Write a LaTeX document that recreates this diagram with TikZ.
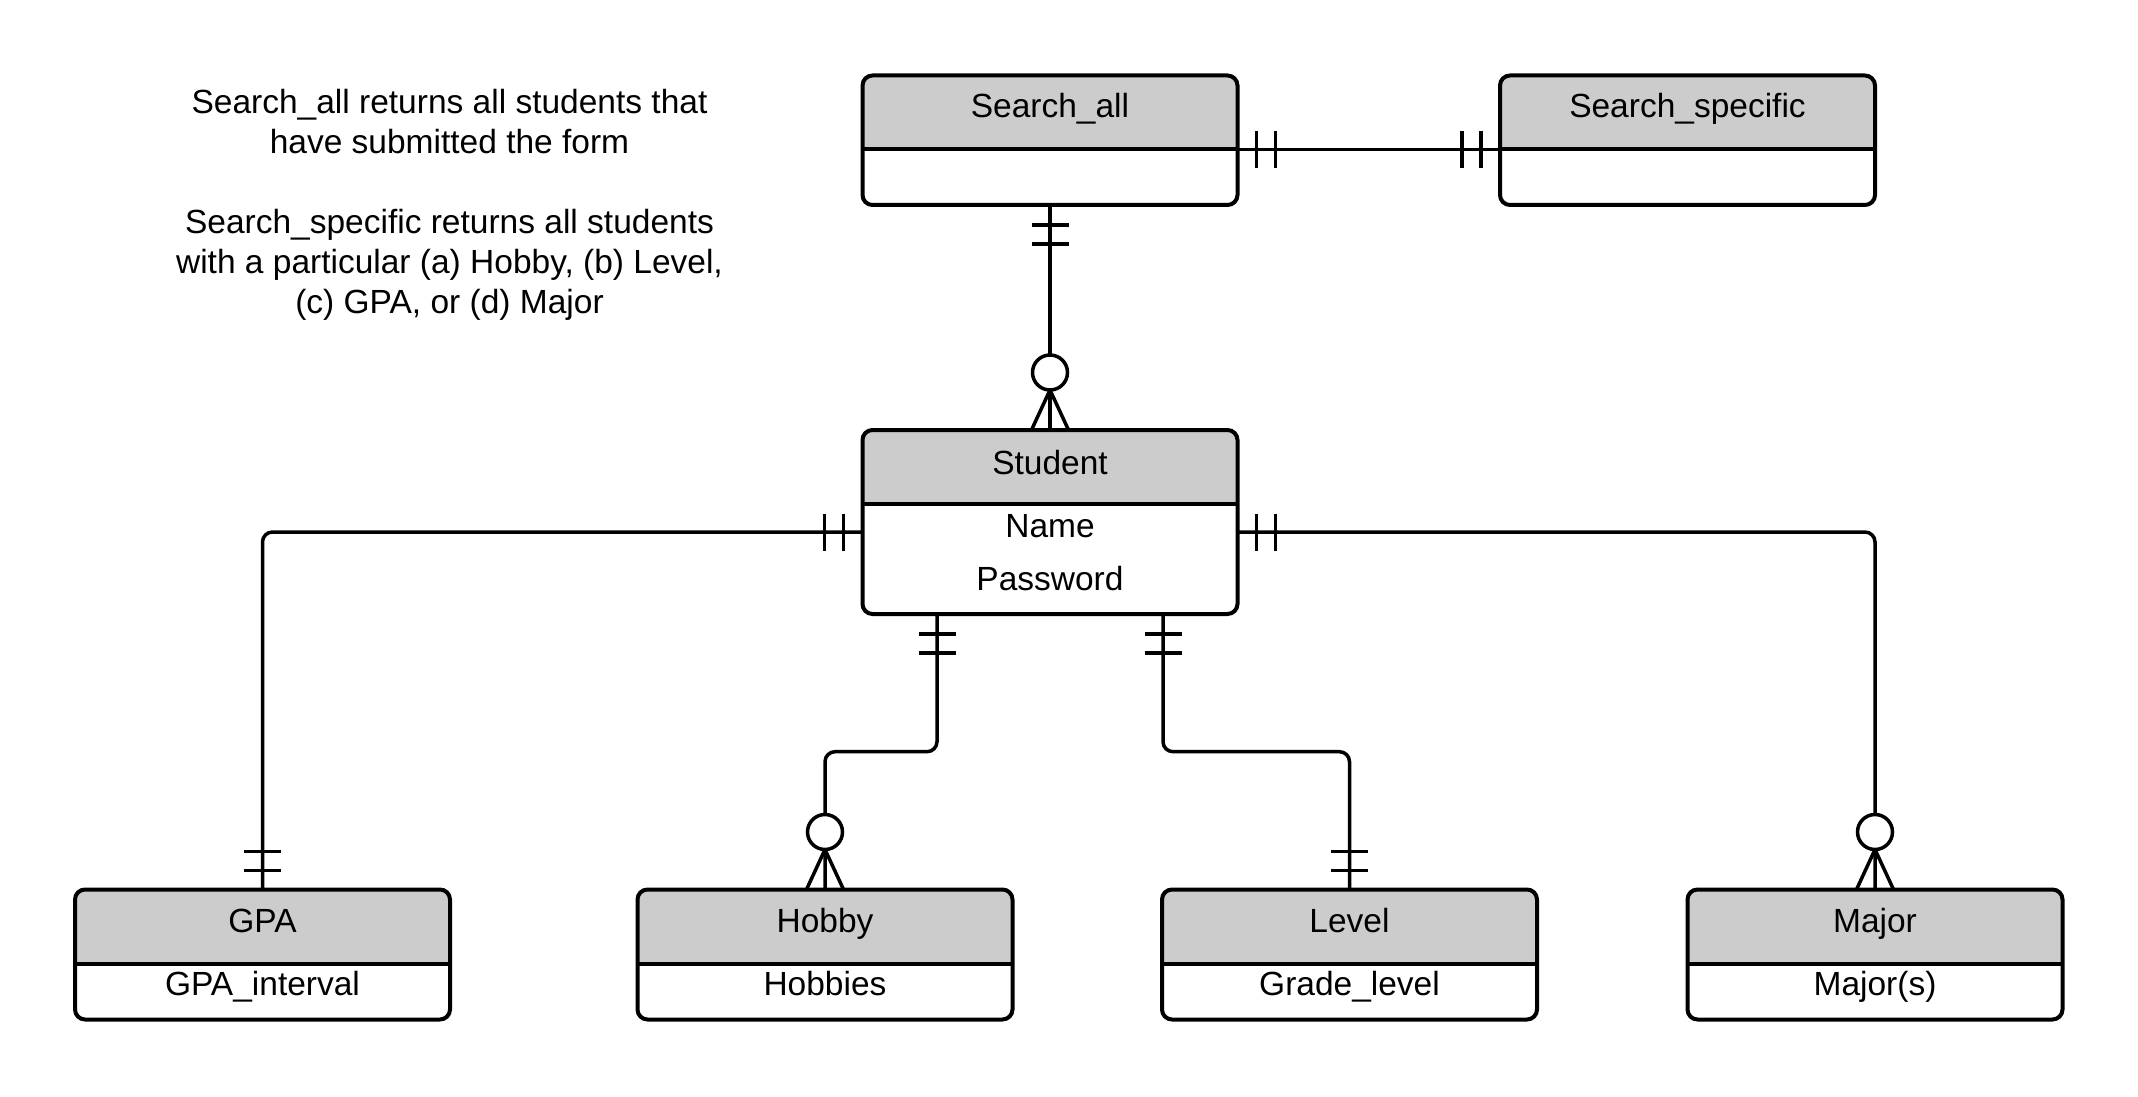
\documentclass[tikz,border=0pt]{standalone}
\usepackage{fontspec}
\setmainfont{Liberation Sans}
\usetikzlibrary{calc}
\definecolor{hdrgray}{HTML}{CCCCCC}
\tikzset{
  entbox/.style={draw=none, minimum width=187.5pt, inner sep=0pt, outer sep=0pt, anchor=north},
  lbl/.style={inner sep=0pt, anchor=base, font=\fontsize{16.75}{20}\selectfont},
  conn/.style={line width=1.75pt, draw=black},
  border/.style={line width=2pt, draw=black, rounded corners=5pt},
}
\newcommand\entframe[1]{%
  \begin{scope}
    \clip[rounded corners=5pt] (#1.south west) rectangle (#1.north east);
    \fill[hdrgray] (#1.north west) rectangle ([yshift=-37pt]#1.north east);
  \end{scope}
  \draw[border] (#1.south west) rectangle (#1.north east);
  \draw[line width=2pt] ([yshift=-37pt]#1.north west) -- ([yshift=-37pt]#1.north east);
}
% double bars: line leaving downwards / arriving from above / leaving right / leaving left
\newcommand\barsdown[1]{%
  \draw[conn] ([shift={(-18.5,20)}]#1) -- ([shift={(18.5,20)}]#1);
  \draw[conn] ([shift={(-18.5,39)}]#1) -- ([shift={(18.5,39)}]#1);}
\newcommand\barsup[1]{%
  \draw[conn] ([shift={(-18.5,-19)}]#1) -- ([shift={(18.5,-19)}]#1);
  \draw[conn] ([shift={(-18.5,-38)}]#1) -- ([shift={(18.5,-38)}]#1);}
\newcommand\barsright[1]{%
  \draw[conn] ([shift={(19,-18.5)}]#1) -- ([shift={(19,18.5)}]#1);
  \draw[conn] ([shift={(38,-18.5)}]#1) -- ([shift={(38,18.5)}]#1);}
\newcommand\barsleft[1]{%
  \draw[conn] ([shift={(-19,-18.5)}]#1) -- ([shift={(-19,18.5)}]#1);
  \draw[conn] ([shift={(-38,-18.5)}]#1) -- ([shift={(-38,18.5)}]#1);}
% zero-or-many at a box top
\newcommand\crowtop[1]{%
  \draw[conn] ([shift={(-18.5,0)}]#1) -- ([shift={(0,-40)}]#1) -- ([shift={(18.5,0)}]#1);
  \draw[conn, fill=white] ([shift={(0,-57.5)}]#1) circle[radius=8.75pt];}
\begin{document}
\begin{tikzpicture}[x=0.5pt,y=-0.5pt]
\useasboundingbox (0,0) rectangle (2138,1097);
% entity boxes
\node[entbox, minimum height=64.75pt] (sall) at (1050,75.5) {};
\node[entbox, minimum height=64.75pt] (ssp) at (1687.5,75.5) {};
\node[entbox, minimum height=92pt] (student) at (1050,430) {};
\node[entbox, minimum height=65pt] (gpa) at (262.5,889.5) {};
\node[entbox, minimum height=65pt] (hobby) at (825,889.5) {};
\node[entbox, minimum height=65pt] (level) at (1349.5,889.5) {};
\node[entbox, minimum height=65pt] (major) at (1875,889.5) {};
% connection points
\coordinate (sallR) at ([yshift=-37pt]sall.north east);
\coordinate (sspL) at ([yshift=-37pt]ssp.north west);
\coordinate (stL) at ([yshift=-51pt]student.north west);
\coordinate (stR) at ([yshift=-51pt]student.north east);
\coordinate (stB1) at ([xshift=-56.5pt]student.south);
\coordinate (stB2) at ([xshift=56.5pt]student.south);
% connectors
\draw[conn] (sallR) -- (sspL);
\draw[conn] (sall.south) -- (student.north);
\draw[conn, rounded corners=5pt] (stL) -| (gpa.north);
\draw[conn, rounded corners=5pt] (stR) -| (major.north);
\draw[conn, rounded corners=5pt] (stB1) -- ++(0,137.7) -| (hobby.north);
\draw[conn, rounded corners=5pt] (stB2) -- ++(0,137.7) -| (level.north);
% frames
\entframe{sall}
\entframe{ssp}
\entframe{student}
\entframe{gpa}
\entframe{hobby}
\entframe{level}
\entframe{major}
% cardinality marks
\barsright{sallR}
\barsleft{sspL}
\barsdown{sall.south}
\crowtop{student.north}
\barsleft{stL}
\barsright{stR}
\barsdown{stB1}
\barsdown{stB2}
\barsup{gpa.north}
\barsup{level.north}
\crowtop{hobby.north}
\crowtop{major.north}
% labels
\node[lbl] (sallT) at (1050,117.7) {Search\_all};
\node[lbl] (sspT) at (1687.5,117.7) {Search\_specific};
\node[lbl] (stT) at (1050,474) {Student};
\node[lbl] (stA1) at (1050,537.3) {Name};
\node[lbl] (stA2) at (1050,590) {Password};
\node[lbl] (gpaT) at (262.5,932) {GPA};
\node[lbl] (gpaA) at (262.5,995) {GPA\_interval};
\node[lbl] (hobbyT) at (825,932) {Hobby};
\node[lbl] (hobbyA) at (825,995) {Hobbies};
\node[lbl] (levelT) at (1349.5,932) {Level};
\node[lbl] (levelA) at (1349.5,995) {Grade\_level};
\node[lbl] (majorT) at (1875,932) {Major};
\node[lbl] (majorA) at (1875,995) {Major(s)};
% note
\node[lbl] (note1) at (449.5,113.3) {Search\_all returns all students that};
\node[lbl] (note2) at (449.5,153.3) {have submitted the form};
\node[lbl] (note3) at (449.5,233.3) {Search\_specific returns all students};
\node[lbl] (note4) at (449.5,273.3) {with a particular (a) Hobby, (b) Level,};
\node[lbl] (note5) at (449.5,313.3) {(c) GPA, or (d) Major};
\end{tikzpicture}
\end{document}
